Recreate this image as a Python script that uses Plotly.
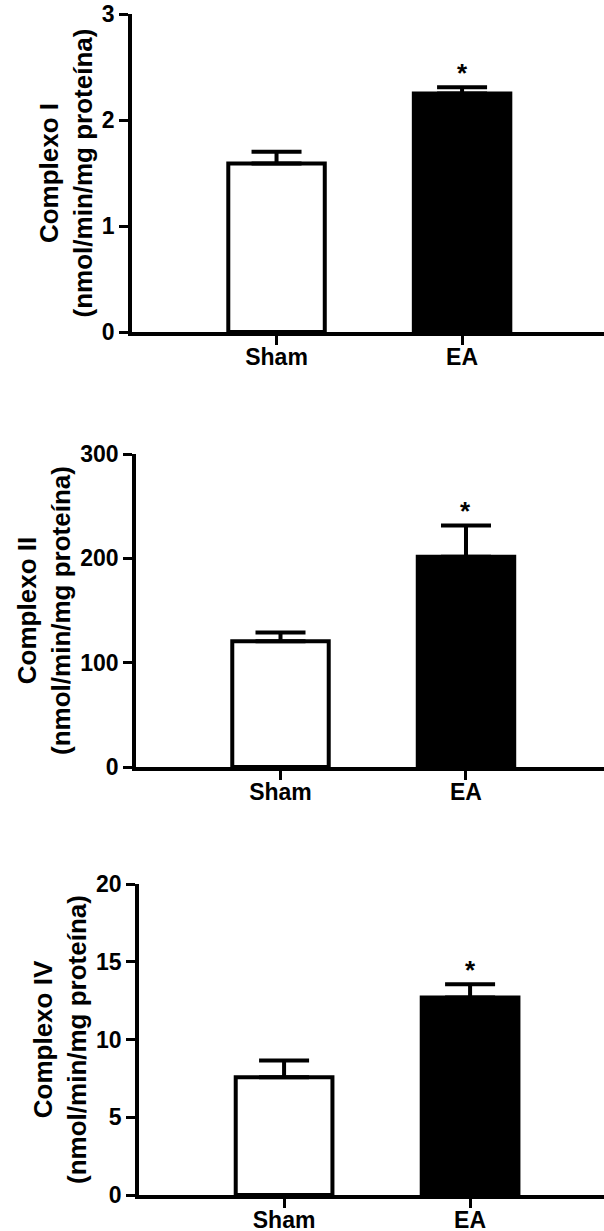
import plotly.graph_objects as go

categories = ["Sham", "EA"]

c1_mean = [1.59, 2.25]
c1_sem = [0.11, 0.06]
c2_mean = [120.5, 201.5]
c2_sem = [8.5, 30.0]
c4_mean = [7.57, 12.70]
c4_sem = [1.08, 0.86]

titles = ["Complexo I", "Complexo II", "Complexo IV"]
y_ranges = [[0, 3], [0, 300], [0, 20]]
y_dtick = [1, 100, 5]
means = [c1_mean, c2_mean, c4_mean]
sems = [c1_sem, c2_sem, c4_sem]

W, H = 604, 1231
# pixel layout of each panel: (axis x, y top, y bottom, x range)
panels_px = [
    (132, 14, 332, [-0.779, 1.765]),
    (136, 454, 767, [-0.779, 1.744]),
    (139, 884, 1195, [-0.78, 1.72]),
]

FONT = "Liberation Sans, Arial, sans-serif"
fig = go.Figure()
layout = {}
annotations = []
for i in range(3):
    ax_x, ytop, ybot, xr = panels_px[i]
    sfx = "" if i == 0 else str(i + 1)
    fig.add_trace(go.Bar(
        x=categories,
        y=means[i],
        width=0.52,
        marker=dict(color=["white", "black"], line=dict(color="black", width=4)),
        error_y=dict(type="data", symmetric=False, array=sems[i],
                     arrayminus=[0, 0], color="black", thickness=4, width=25),
        xaxis="x" + sfx, yaxis="y" + sfx,
        showlegend=False, hoverinfo="skip",
    ))
    layout["xaxis" + sfx] = dict(
        domain=[ax_x / W, 1.0], anchor="y" + sfx, range=xr,
        showline=True, linecolor="black", linewidth=3.5,
        ticks="outside", ticklen=9, tickwidth=3, tickcolor="black",
        ticklabelstandoff=-7,
        tickfont=dict(family=FONT, size=23, color="black", weight="bold"),
        showgrid=False, zeroline=False, fixedrange=True, automargin=False,
    )
    layout["yaxis" + sfx] = dict(
        domain=[1 - ybot / H, 1 - ytop / H], anchor="x" + sfx,
        range=y_ranges[i], dtick=y_dtick[i], tick0=0,
        showline=True, linecolor="black", linewidth=3.5,
        ticks="outside", ticklen=9, tickwidth=3, tickcolor="black",
        tickfont=dict(family=FONT, size=23, color="black", weight="bold"),
        showgrid=False, zeroline=False, fixedrange=True, automargin=False,
        title=dict(text=titles[i] + "<br>(nmol/min/mg proteína)",
                   font=dict(family=FONT, size=26, color="black", weight="bold"),
                   standoff=3),
    )
    annotations.append(dict(
        x=categories[1], y=means[i][1] + sems[i][1],
        xref="x" + sfx, yref="y" + sfx,
        text="*", showarrow=False, yanchor="bottom", yshift=-3,
        font=dict(family=FONT, size=26, color="black", weight="bold"),
    ))

fig.update_layout(
    width=W, height=H,
    margin=dict(l=0, r=0, t=0, b=0, autoexpand=False),
    paper_bgcolor="white", plot_bgcolor="white",
    annotations=annotations,
    **layout,
)

fig.write_html("out.html",
               config={"displayModeBar": False},
               post_script="document.body.style.margin='0';document.body.style.overflow='hidden';")
